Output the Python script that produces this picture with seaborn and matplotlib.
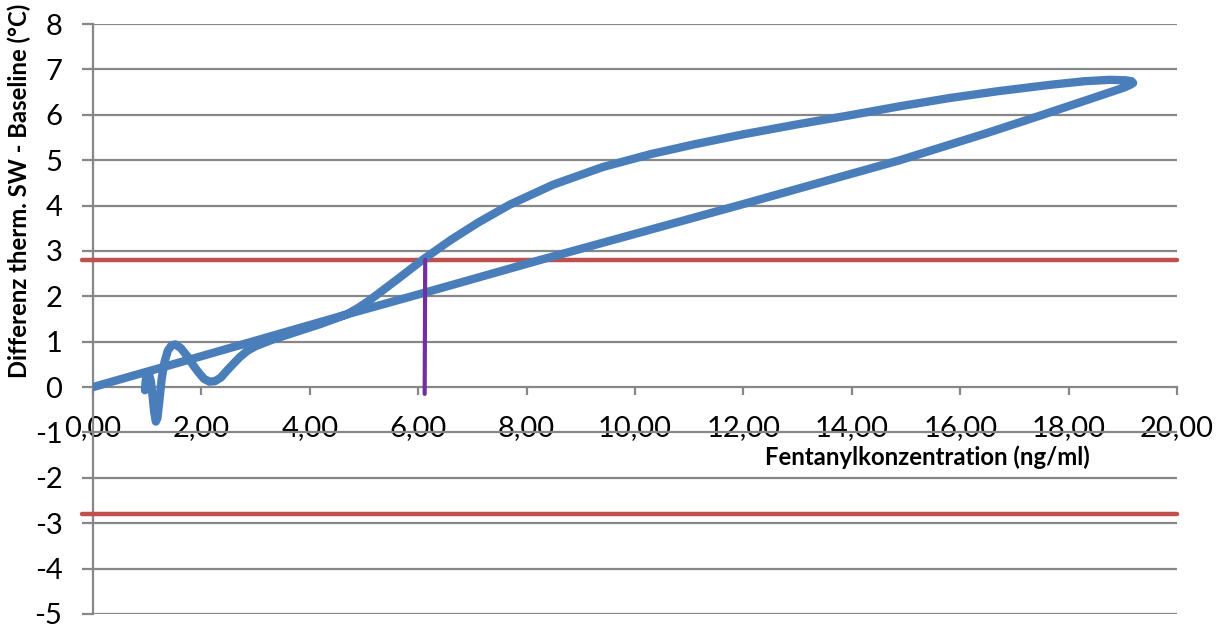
import matplotlib
matplotlib.use("Agg")
import matplotlib.pyplot as plt
import seaborn as sns
import pandas as pd
from matplotlib.ticker import FixedLocator, FuncFormatter

# Hysteresis loop: concentration (ng/ml) vs. temperature difference (°C), in recording order
conc = [0.00, 2.00, 4.68, 6.09, 8.25, 11.90, 14.89, 16.50, 17.42, 18.20, 18.70,
        19.00, 19.12, 19.19, 19.16, 19.05, 18.76, 18.30, 17.66, 16.70, 15.81, 14.90,
        13.97, 13.00, 12.00, 11.10, 10.28, 9.41, 8.49, 7.69, 7.10, 6.60, 6.10, 5.60,
        5.10, 4.90, 4.68, 4.20, 3.76, 3.30, 3.00, 2.85, 2.71, 2.58, 2.47, 2.36, 2.25,
        2.15, 2.05, 1.95, 1.85, 1.74, 1.62, 1.52, 1.45, 1.38, 1.32, 1.27, 1.23, 1.19,
        1.16, 1.13, 1.10, 1.07, 1.03, 0.99, 0.97, 0.96]
temp_diff = [0.00, 0.68, 1.60, 2.07, 2.80, 4.00, 5.00, 5.60, 5.96, 6.27, 6.47,
             6.59, 6.65, 6.70, 6.74, 6.76, 6.77, 6.74, 6.66, 6.52, 6.37, 6.19,
             5.99, 5.79, 5.57, 5.35, 5.13, 4.85, 4.46, 4.02, 3.62, 3.24, 2.82, 2.36,
             1.91, 1.75, 1.60, 1.39, 1.22, 1.04, 0.90, 0.80, 0.66, 0.50, 0.36, 0.21, 0.13,
             0.12, 0.18, 0.32, 0.48, 0.68, 0.86, 0.94, 0.92, 0.80, 0.55, 0.20, -0.25, -0.68,
             -0.76, -0.55, -0.20, 0.12, 0.30, 0.28, 0.10, -0.07]

threshold = 2.8          # ± limit band
cutoff_conc = 6.13       # concentration where the loop crosses the limit
x_ticks = [0, 2, 4, 6, 8, 10, 12, 14, 16, 18, 20]
y_ticks = list(range(-5, 9))

BLUE = "#4A7EBB"
RED = "#C0504D"
PURPLE = "#7030A0"
GRID = "#878787"

sns.set_theme(style="white")
plt.rcParams["font.family"] = ["Lato", "DejaVu Sans"]

fig = plt.figure(figsize=(12.23, 6.3), dpi=100)
ax = fig.add_axes([0.076, 0.0254, 0.8864, 0.9365])

# horizontal gridlines
for yv in y_ticks:
    if yv != 0:
        ax.axhline(yv, color=GRID, lw=1.6, zorder=1)

loop = pd.DataFrame({"conc": conc, "diff": temp_diff})
sns.lineplot(data=loop, x="conc", y="diff", sort=False, estimator=None,
             color=BLUE, lw=6.0, ax=ax, zorder=4,
             solid_capstyle="round", solid_joinstyle="round")

limits = pd.DataFrame({"conc": [-0.2, 20.0, -0.2, 20.0],
                       "diff": [threshold, threshold, -threshold, -threshold],
                       "band": ["upper", "upper", "lower", "lower"]})
for _, grp in limits.groupby("band"):
    sns.lineplot(data=grp, x="conc", y="diff", color=RED, lw=3.2, ax=ax,
                 zorder=3, clip_on=False)

cutoff = pd.DataFrame({"conc": [cutoff_conc - 0.01, cutoff_conc],
                       "diff": [-0.15, threshold]})
sns.lineplot(data=cutoff, x="conc", y="diff", sort=False, estimator=None,
             color=PURPLE, lw=3.0, ax=ax, zorder=5)

ax.set_xlim(0, 20)
ax.set_ylim(-5, 8)

for side in ("top", "right"):
    ax.spines[side].set_visible(False)
ax.spines["bottom"].set_position(("data", 0))
ax.spines["left"].set_position(("data", 0))
for side in ("bottom", "left"):
    ax.spines[side].set_color(GRID)
    ax.spines[side].set_linewidth(1.6)
    ax.spines[side].set_zorder(2)

ax.xaxis.set_major_locator(FixedLocator(x_ticks))
ax.yaxis.set_major_locator(FixedLocator(y_ticks))
ax.xaxis.set_major_formatter(FuncFormatter(lambda v, p: f"{v:.2f}".replace(".", ",")))
ax.yaxis.set_major_formatter(FuncFormatter(lambda v, p: f"{int(round(v))}"))
ax.tick_params(axis="x", direction="out", length=6, width=1.6, color=GRID,
               pad=14, labelsize=21, labelcolor="#000000", bottom=True)
ax.tick_params(axis="y", direction="out", length=8, width=1.6, color=GRID,
               pad=14, labelsize=21, labelcolor="#000000", left=True)
for lbl in ax.get_xticklabels() + ax.get_yticklabels():
    lbl.set_clip_on(False)

ax.set_xlabel("Fentanylkonzentration (ng/ml)", fontsize=17.2, fontweight="bold",
              color="#000000")
ax.set_ylabel("Differenz therm. SW - Baseline (°C)", fontsize=17.2,
              fontweight="bold", color="#000000")
ax.xaxis.set_label_coords(0.770, 0.285)
ax.yaxis.set_label_coords(-0.057, 0.717)

fig.savefig("out.png", dpi=100, facecolor="white")
